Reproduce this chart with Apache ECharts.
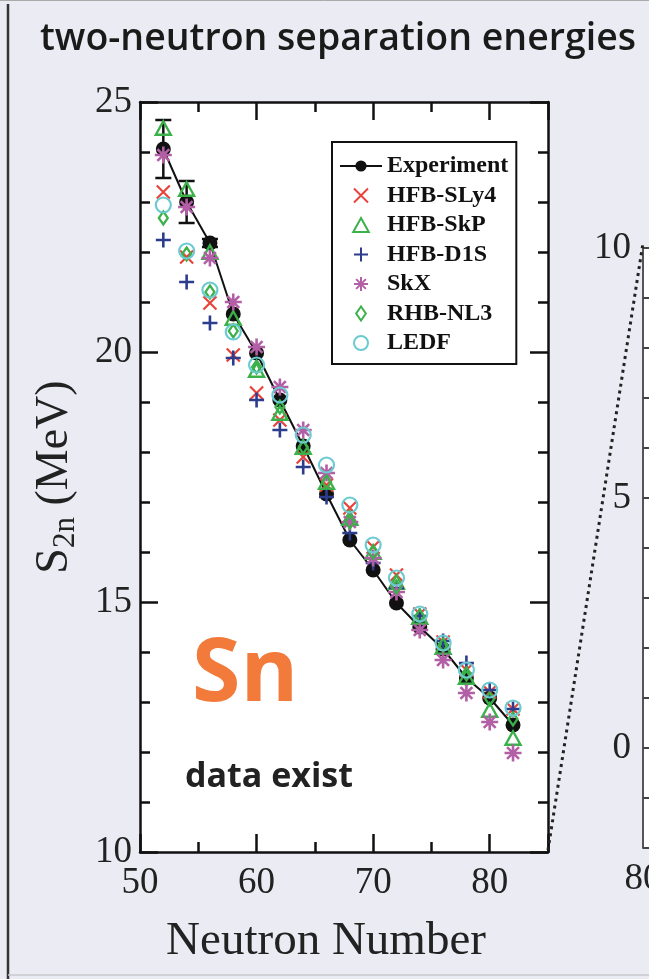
<!DOCTYPE html>
<html>
<head>
<meta charset="utf-8">
<script src="https://cdn.jsdelivr.net/npm/echarts@6/dist/echarts.min.js"></script>
<style>
html,body{margin:0;padding:0;background:#ebebf4;}
#main{width:649px;height:979px;}
</style>
</head>
<body>
<div id="main"></div>
<script>
// ---------- data ----------
var neutrons   = [52, 54, 56, 58, 60, 62, 64, 66, 68, 70, 72, 74, 76, 78, 80, 82];
var experiment = [24.06, 23.00, 22.18, 20.76, 19.98, 19.04, 18.12, 17.16, 16.24, 15.64, 14.98, 14.50, 14.06, 13.48, 13.08, 12.54];
var expError   = [0.58, 0.42, 0.08, 0, 0, 0, 0, 0, 0, 0, 0, 0, 0, 0, 0, 0];
var hfbSLy4    = [23.20, 21.90, 20.98, 19.94, 19.18, 18.64, 17.90, 17.34, 16.88, 16.10, 15.54, 14.76, 14.20, 13.64, 13.20, 12.86];
var hfbSkP     = [24.48, 23.26, 22.00, 20.68, 19.64, 18.78, 18.10, 17.40, 16.68, 16.00, 15.40, 14.70, 14.10, 13.50, 12.84, 12.28];
var hfbD1S     = [22.24, 21.40, 20.58, 19.88, 19.04, 18.44, 17.70, 17.10, 16.38, 15.78, 15.28, 14.72, 14.22, 13.78, 13.24, 12.86];
var skX        = [23.94, 22.90, 21.88, 21.00, 20.10, 19.30, 18.44, 17.58, 16.60, 15.88, 15.20, 14.44, 13.84, 13.18, 12.60, 11.98];
var rhbNL3     = [22.68, 21.96, 21.20, 20.42, 19.70, 18.90, 18.10, 17.40, 16.60, 16.00, 15.30, 14.72, 14.14, 13.56, 13.06, 12.66];
var ledf       = [22.94, 22.02, 21.24, 20.40, 19.74, 19.14, 18.34, 17.74, 16.94, 16.14, 15.48, 14.76, 14.18, 13.64, 13.24, 12.88];
var xTicks = [50, 60, 70, 80];
var yTicks = [10, 15, 20, 25];
var zoomTicks = [0, 5, 10];

function pairs(ys){ return neutrons.map(function(n,i){ return [n, ys[i]]; }); }
var errData = neutrons.map(function(n,i){ return [n, experiment[i]-expError[i], experiment[i]+expError[i]]; })
                      .filter(function(d){ return d[2]-d[1] > 0.01; });

var SERIF = '"Liberation Serif","Times New Roman",serif';

var chart = echarts.init(document.getElementById('main'), null, {renderer:'canvas'});

var axisCommon = {
  axisLine:{show:true, lineStyle:{color:'#111', width:2.5}},
  splitLine:{show:false},
  axisTick:{show:true, inside:true, length:18, lineStyle:{color:'#111', width:2.5}},
  minorTick:{show:true, length:10, lineStyle:{color:'#111', width:2.5}}
};

function scat(name, data, symbol, size, color, bw){
  return {
    name:name, type:'scatter', xAxisIndex:0, yAxisIndex:0,
    data: pairs(data), symbol:symbol, symbolSize:size, symbolKeepAspect:true,
    itemStyle:{color:'none', borderColor:color, borderWidth:bw, opacity:1},
    emphasis:{disabled:true}
  };
}

var option = {
  backgroundColor:'#ebebf4',
  animation:false,
  grid:[
    {left:140, top:102, width:408, height:750, show:true, backgroundColor:'#ffffff', borderWidth:0},
    {left:643, top:248, width:200, height:600, show:true, backgroundColor:'#ffffff', borderWidth:0}
  ],
  xAxis:[
    Object.assign({}, axisCommon, {type:'value', gridIndex:0, position:'bottom', min:50, max:85, interval:10,
      minorTick:Object.assign({}, axisCommon.minorTick, {splitNumber:2}),
      axisLabel:{show:true, margin:13, fontFamily:SERIF, fontSize:37, color:'#222',
        formatter:function(v){ return xTicks.indexOf(v)>=0 ? String(v) : ''; }},
      name:'Neutron Number', nameLocation:'middle', nameGap:66,
      nameTextStyle:{fontFamily:SERIF, fontSize:47, color:'#222', padding:[0,36,0,0]}
    }),
    Object.assign({}, axisCommon, {type:'value', gridIndex:0, position:'top', min:50, max:85, interval:10,
      minorTick:Object.assign({}, axisCommon.minorTick, {splitNumber:2}),
      axisLabel:{show:false}
    }),
    {type:'value', gridIndex:1, position:'bottom', min:80, max:100, interval:10,
      axisLine:{show:true, lineStyle:{color:'#555', width:2}},
      axisTick:{show:false}, splitLine:{show:false},
      axisLabel:{show:true, margin:13, fontFamily:SERIF, fontSize:37, color:'#222',
        formatter:function(v){ return v===80 ? '80' : ''; }}
    }
  ],
  yAxis:[
    Object.assign({}, axisCommon, {type:'value', gridIndex:0, position:'left', min:10, max:25, interval:5,
      minorTick:Object.assign({}, axisCommon.minorTick, {splitNumber:5}),
      axisLabel:{show:true, margin:8, fontFamily:SERIF, fontSize:37, color:'#222',
        formatter:function(v){ return yTicks.indexOf(v)>=0 ? String(v) : ''; }},
      name:'{a|S}{b|2n}{a| (MeV)}', nameLocation:'middle', nameGap:59, nameRotate:90,
      nameTextStyle:{color:'#222', rich:{
        a:{fontFamily:SERIF, fontSize:46, lineHeight:52, color:'#222', verticalAlign:'middle'},
        b:{fontFamily:SERIF, fontSize:31, lineHeight:52, color:'#222', verticalAlign:'bottom'}
      }}
    }),
    Object.assign({}, axisCommon, {type:'value', gridIndex:0, position:'right', min:10, max:25, interval:5,
      minorTick:Object.assign({}, axisCommon.minorTick, {splitNumber:5}),
      axisLabel:{show:false}
    }),
    {type:'value', gridIndex:1, position:'left', min:-2, max:10, interval:1,
      axisLine:{show:true, lineStyle:{color:'#555', width:2}},
      axisTick:{show:true, inside:true, length:8, lineStyle:{color:'#444', width:2}},
      splitLine:{show:false},
      axisLabel:{show:true, margin:12, fontFamily:SERIF, fontSize:37, color:'#222',
        formatter:function(v){ return zoomTicks.indexOf(v)>=0 ? String(v) : ''; }}
    }
  ],
  legend:{
    orient:'vertical', left:332, top:142, padding:[12,8,9,7],
    backgroundColor:'#ffffff', borderColor:'#111', borderWidth:2,
    itemWidth:42, itemHeight:14, itemGap:5.5, symbolKeepAspect:true,
    textStyle:{fontFamily:SERIF, fontWeight:'bold', fontSize:24, lineHeight:21, color:'#111'},
    data:['Experiment','HFB-SLy4','HFB-SkP','HFB-D1S','SkX','RHB-NL3','LEDF'],
    selectedMode:false
  },
  series:[
    {
      name:'errors', type:'custom', xAxisIndex:0, yAxisIndex:0, data:errData,
      renderItem:function(params, api){
        var top = api.coord([api.value(0), api.value(2)]);
        var bot = api.coord([api.value(0), api.value(1)]);
        var hw = 8;
        return {type:'group', children:[
          {type:'line', shape:{x1:top[0], y1:top[1], x2:bot[0], y2:bot[1]}, style:{stroke:'#111', lineWidth:2.5}},
          {type:'line', shape:{x1:top[0]-hw, y1:top[1], x2:top[0]+hw, y2:top[1]}, style:{stroke:'#111', lineWidth:2.5}},
          {type:'line', shape:{x1:bot[0]-hw, y1:bot[1], x2:bot[0]+hw, y2:bot[1]}, style:{stroke:'#111', lineWidth:2.5}}
        ]};
      },
      z:2
    },
    {
      name:'Experiment', type:'line', xAxisIndex:0, yAxisIndex:0, data:pairs(experiment),
      symbol:'circle', symbolSize:15, showSymbol:true,
      lineStyle:{color:'#111', width:2}, itemStyle:{color:'#111'},
      emphasis:{disabled:true}, z:2
    },
    scat('HFB-SLy4', hfbSLy4, 'path://M0 0L10 10M10 0L0 10', 13, '#e8433b', 2.2),
    scat('HFB-SkP', hfbSkP, 'path://M5 0L10 9L0 9Z', 15, '#3bb14a', 2.4),
    scat('HFB-D1S', hfbD1S, 'path://M5 0L5 10M0 5L10 5', 15, '#2c3d8e', 2.6),
    scat('SkX', skX, 'path://M5 0L5 10M0 5L10 5M1.5 1.5L8.5 8.5M8.5 1.5L1.5 8.5', 17, '#b35fa6', 2.6),
    scat('RHB-NL3', rhbNL3, 'path://M5 0L9.5 6.5L5 13L0.5 6.5Z', 13, '#3bb14a', 2.2),
    scat('LEDF', ledf, 'circle', 15, '#6ccbd1', 2.2)
  ],
  graphic:[
    {type:'line', shape:{x1:8, y1:4, x2:8, y2:979}, style:{stroke:'#333', lineWidth:2.5}, z:100},
    {type:'line', shape:{x1:0, y1:0.5, x2:649, y2:0.5}, style:{stroke:'#aaa', lineWidth:1}, z:100},
    {type:'line', shape:{x1:8, y1:975, x2:649, y2:975}, style:{stroke:'#c8c8cc', lineWidth:1.5}, z:100},
    {type:'line', shape:{x1:548, y1:850, x2:643, y2:243}, style:{stroke:'#222', lineWidth:3, lineDash:[3,4]}, z:100},
    {type:'text', left:40, top:20, style:{text:'two-neutron separation energies', font:'600 37.5px "Open Sans", sans-serif', fill:'#1a1a1a'}, z:100},
    {type:'text', left:192, top:632, style:{text:'Sn', font:'bold 88px "Open Sans", sans-serif', fill:'#f27a3a'}, z:100},
    {type:'text', left:185, top:760, style:{text:'data exist', font:'bold 34px "Open Sans", sans-serif', fill:'#222'}, z:100}
  ]
};
chart.setOption(option);
</script>
</body>
</html>
